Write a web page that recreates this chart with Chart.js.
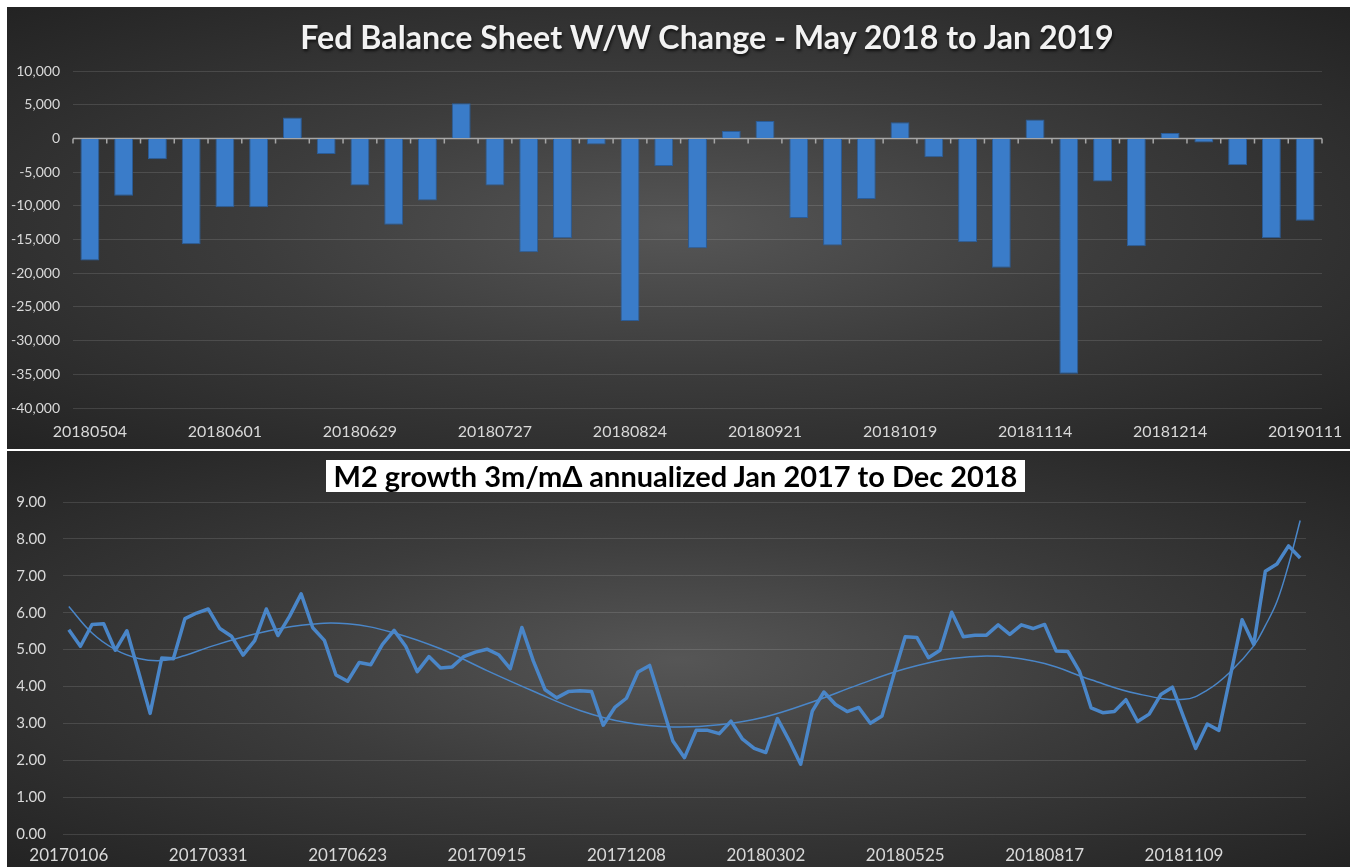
<!DOCTYPE html>
<html>
<head>
<meta charset="utf-8">
<script src="https://cdn.jsdelivr.net/npm/chart.js@4.4.0/dist/chart.umd.min.js"></script>
<style>
  body { margin: 0; background: #fff; width: 1353px; height: 867px; overflow: hidden; position: relative; font-family: Lato, sans-serif; }
  .panel { position: absolute; left: 7px; width: 1343px;
    background: radial-gradient(ellipse farthest-corner at 50% 50%, #565656 0%, #3c3c3c 45%, #232323 100%); }
  #p1 { top: 7px; height: 442px; }
  #p2 { top: 451px; height: 416px; }
  .title1 { position: absolute; left: 57px; right: 0; text-align: center; color: #f2f2f2; font-weight: bold;
    text-shadow: 1px 2px 3px rgba(0,0,0,0.7); white-space: nowrap; }
  .title2 { position: absolute; left: 319px; top: 9px; width: 699px; height: 32px; background: #fff; color: #000;
    font-weight: bold; text-align: center; line-height: 32px; white-space: nowrap; }
  canvas { position: absolute; left: 0; top: 0; }
</style>
</head>
<body>
<div class="panel" id="p1">
  <canvas id="fedChart" width="1343" height="442"></canvas>
  <div class="title1" id="t1">Fed Balance Sheet W/W Change - May 2018 to Jan 2019</div>
</div>
<div class="panel" id="p2">
  <canvas id="m2Chart" width="1343" height="416"></canvas>
  <div class="title2" id="t2">M2 growth 3m/mΔ annualized Jan 2017 to Dec 2018</div>
</div>
<script>
// Fed balance sheet, weekly change
const fedDates = ['20180504','20180511','20180518','20180525','20180601','20180608','20180615','20180622',
  '20180629','20180706','20180713','20180720','20180727','20180803','20180810','20180817',
  '20180824','20180831','20180907','20180914','20180921','20180928','20181005','20181012',
  '20181019','20181026','20181102','20181109','20181114','20181121','20181130','20181207',
  '20181214','20181221','20181228','20190104','20190111'];
const fedChange = [-18100, -8500, -3100, -15700, -10200, -10200, 3100, -2300, -7000, -12800,
  -9200, 5200, -7000, -16900, -14800, -900, -27100, -4100, -16300, 1100,
  2600, -11800, -15900, -9000, 2400, -2800, -15400, -19200, 2800, -34900,
  -6400, -16000, 800, -600, -4000, -14800, -12200];

// M2 growth, weekly
const m2Ticks = ['20170106','20170331','20170623','20170915','20171208','20180302','20180525','20180817','20181109'];
const m2Growth = [5.54, 5.09, 5.68, 5.70, 4.98, 5.51, 4.40, 3.27, 4.77, 4.75,
  5.84, 5.99, 6.10, 5.57, 5.36, 4.85, 5.24, 6.10, 5.38, 5.90,
  6.51, 5.59, 5.25, 4.31, 4.14, 4.65, 4.59, 5.14, 5.52, 5.09,
  4.40, 4.81, 4.50, 4.53, 4.81, 4.93, 5.01, 4.86, 4.48, 5.60,
  4.68, 3.91, 3.69, 3.86, 3.88, 3.86, 2.95, 3.43, 3.68, 4.39,
  4.57, 3.56, 2.52, 2.07, 2.81, 2.81, 2.72, 3.06, 2.57, 2.32,
  2.21, 3.13, 2.54, 1.89, 3.33, 3.85, 3.51, 3.32, 3.43, 3.00,
  3.20, 4.30, 5.35, 5.33, 4.78, 4.98, 6.01, 5.35, 5.39, 5.39,
  5.67, 5.41, 5.67, 5.57, 5.68, 4.96, 4.95, 4.41, 3.42, 3.29,
  3.32, 3.64, 3.05, 3.25, 3.78, 3.98, 3.14, 2.32, 2.98, 2.81,
  4.30, 5.81, 5.14, 7.12, 7.32, 7.81, 7.48];
// trendline at a few weeks
const trendWeeks = [0, 2, 4, 6, 8, 10, 12, 16, 20, 24, 28, 32, 36, 40, 44, 48, 52, 56, 60, 64, 68, 72, 76, 80, 84, 88, 92, 96, 98, 100, 102, 103, 104, 105, 106];
const trendValues = [6.17, 5.45, 5.00, 4.76, 4.70, 4.84, 5.06, 5.42, 5.66, 5.70, 5.45, 5.02, 4.43, 3.87, 3.35, 3.02, 2.90, 2.96, 3.18, 3.58, 4.05, 4.48, 4.76, 4.82, 4.62, 4.18, 3.80, 3.65, 3.90, 4.40, 5.10, 5.65, 6.30, 7.30, 8.50];

const tickColor = '#d9d9d9';
const gridColor = 'rgba(255,255,255,0.12)';
const barBlue = '#3a7cc9';
const lineBlue = '#4a86c8';

// size the titles to the width they have in the picture
function fitFont(el, width) {
  const c = document.createElement('canvas').getContext('2d');
  c.font = 'bold 100px Lato';
  const size = 100 * width / c.measureText(el.textContent).width;
  el.style.fontSize = size + 'px';
  return size;
}
const s1 = fitFont(document.getElementById('t1'), 816);
document.getElementById('t1').style.top = (29 - s1 * 0.6) + 'px';
fitFont(document.getElementById('t2'), 685);

// zero line with tick marks between the weeks
const zeroAxis = {
  id: 'zeroAxis',
  beforeDatasetsDraw(chart) {
    const { ctx, scales: { x, y } } = chart;
    const y0 = y.getPixelForValue(0);
    const half = (x.getPixelForValue(1) - x.getPixelForValue(0)) / 2;
    ctx.save();
    ctx.strokeStyle = '#a6a6a6';
    ctx.lineWidth = 1.5;
    ctx.beginPath();
    ctx.moveTo(x.left, y0);
    ctx.lineTo(x.right, y0);
    for (let i = 0; i < fedDates.length; i++) {
      const px = x.getPixelForValue(i) - half;
      ctx.moveTo(px, y0);
      ctx.lineTo(px, y0 + 5);
    }
    ctx.moveTo(x.right, y0);
    ctx.lineTo(x.right, y0 + 5);
    ctx.stroke();
    ctx.restore();
  }
};

new Chart(document.getElementById('fedChart'), {
  type: 'bar',
  data: {
    labels: fedDates,
    datasets: [{
      data: fedChange,
      backgroundColor: barBlue,
      borderColor: '#2a5c98',
      borderWidth: 1,
      barPercentage: 0.56,
      categoryPercentage: 1
    }]
  },
  options: {
    responsive: false,
    animation: false,
    layout: { padding: { top: 64, right: 28, left: 0, bottom: 0 } },
    plugins: { legend: { display: false }, tooltip: { enabled: false } },
    scales: {
      x: {
        grid: { display: false, drawTicks: false },
        border: { display: false },
        afterFit: s => { s.height = 41; s.paddingLeft = 0; s.paddingRight = 0; },
        ticks: {
          autoSkip: false, maxRotation: 0, padding: 14,
          color: tickColor, font: { family: 'Lato', size: 16 },
          callback: (v, i) => i % 4 === 0 ? fedDates[i] : ''
        }
      },
      y: {
        min: -40000, max: 10000,
        grid: { color: c => c.tick.value === 0 ? 'rgba(0,0,0,0)' : gridColor, drawTicks: false },
        border: { display: false },
        afterFit: s => { s.width = 66; },
        ticks: {
          stepSize: 5000, padding: 13,
          color: tickColor, font: { family: 'Lato', size: 14 },
          callback: v => v.toLocaleString('en-US')
        }
      }
    }
  },
  plugins: [zeroAxis]
});

new Chart(document.getElementById('m2Chart'), {
  type: 'line',
  data: {
    labels: m2Growth.map((v, i) => i),
    datasets: [{
      data: m2Growth,
      borderColor: lineBlue,
      borderWidth: 3.5,
      pointRadius: 0,
      borderJoinStyle: 'round',
      tension: 0
    }, {
      data: trendWeeks.map((w, i) => ({ x: w, y: trendValues[i] })),
      borderColor: lineBlue,
      borderWidth: 1.5,
      pointRadius: 0,
      tension: 0.4
    }]
  },
  options: {
    responsive: false,
    animation: false,
    layout: { padding: { top: 51, right: 44, left: 0, bottom: 0 } },
    plugins: { legend: { display: false }, tooltip: { enabled: false } },
    scales: {
      x: {
        offset: true,
        grid: { display: false, drawTicks: false },
        border: { display: false },
        afterFit: s => { s.height = 33; s.paddingLeft = 0; s.paddingRight = 0; },
        ticks: {
          autoSkip: false, maxRotation: 0, padding: 11,
          color: tickColor, font: { family: 'Lato', size: 17 },
          callback: (v, i) => i % 12 === 0 ? m2Ticks[i / 12] : ''
        }
      },
      y: {
        min: 0, max: 9,
        grid: { color: gridColor, drawTicks: false },
        border: { display: false },
        afterFit: s => { s.width = 56; },
        ticks: {
          stepSize: 1, padding: 17,
          color: tickColor, font: { family: 'Lato', size: 15 },
          callback: v => v.toFixed(2)
        }
      }
    }
  }
});
</script>
</body>
</html>
